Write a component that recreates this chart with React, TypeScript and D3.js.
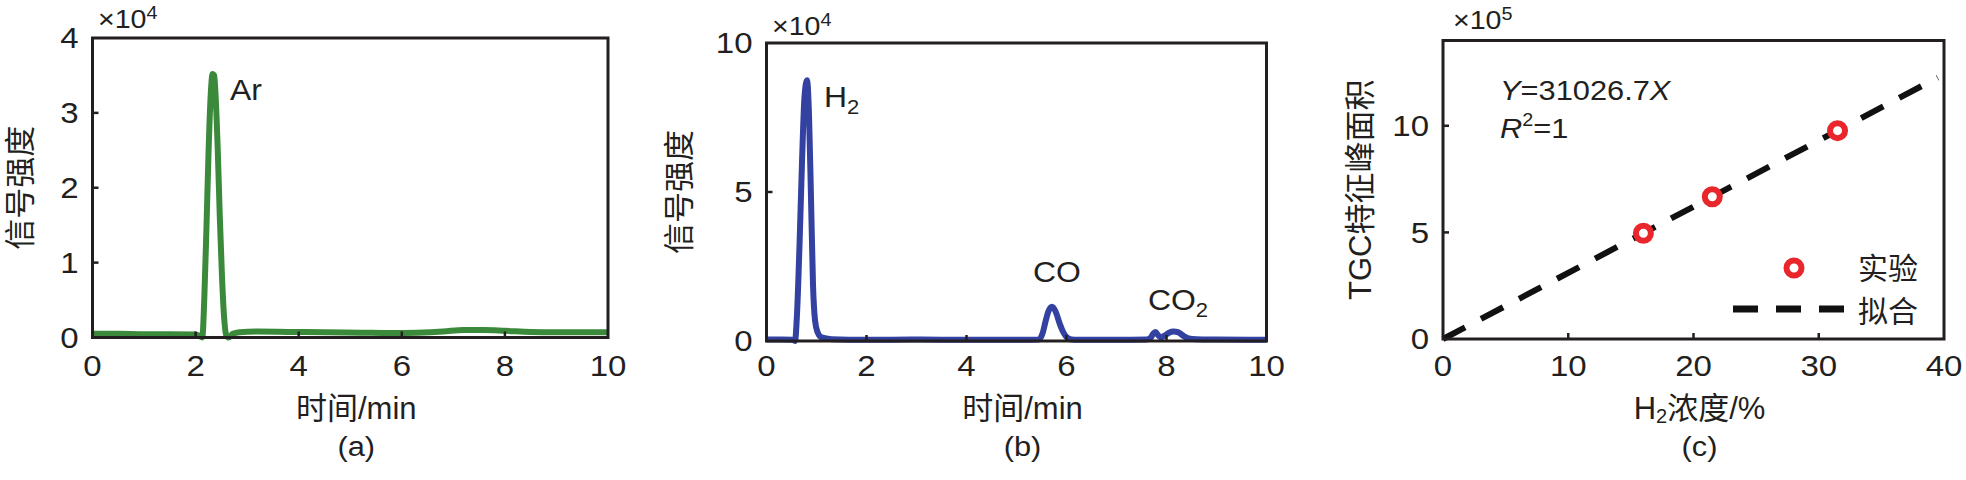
import React from 'react';
import * as d3 from 'd3';

// ---------- data ----------
const aTime = [0, 0.5, 1.0, 1.5, 2.0, 2.08, 2.13, 2.17, 2.21, 2.25, 2.29, 2.33, 2.36, 2.39, 2.43, 2.47, 2.51, 2.55, 2.59, 2.64, 2.72, 2.85, 3.2, 3.8, 4.5, 5.2, 5.8, 6.3, 6.8, 7.2, 7.6, 8.0, 8.5, 9.0, 9.5, 10];
const aSignal = [0.05, 0.05, 0.045, 0.045, 0.04, 0.02, 0.0, 0.55, 1.45, 2.45, 3.2, 3.52, 3.5, 3.2, 2.5, 1.6, 0.85, 0.3, 0.04, 0.0, 0.05, 0.07, 0.08, 0.075, 0.07, 0.065, 0.06, 0.065, 0.08, 0.1, 0.1, 0.09, 0.075, 0.07, 0.07, 0.07];

const bTime = [0, 0.3, 0.52, 0.57, 0.61, 0.66, 0.71, 0.76, 0.81, 0.85, 0.89, 0.93, 0.97, 1.02, 1.1, 1.3, 2.0, 3.0, 4.0, 5.0, 5.45, 5.52, 5.58, 5.64, 5.71, 5.78, 5.86, 5.94, 6.02, 6.1, 6.25, 7.0, 7.6, 7.68, 7.73, 7.78, 7.83, 7.89, 7.96, 8.05, 8.14, 8.24, 8.34, 8.44, 8.6, 9.0, 10];
const bSignal = [0.05, 0.05, 0.04, 0.0, 0.9, 3.2, 6.0, 8.2, 8.75, 7.6, 4.8, 1.9, 0.7, 0.3, 0.12, 0.06, 0.04, 0.05, 0.04, 0.04, 0.05, 0.25, 0.65, 1.0, 1.15, 1.0, 0.6, 0.28, 0.1, 0.05, 0.04, 0.04, 0.05, 0.1, 0.24, 0.3, 0.2, 0.12, 0.18, 0.28, 0.32, 0.29, 0.17, 0.09, 0.06, 0.05, 0.04];

const cConc = [16.0, 21.5, 31.5];
const cArea = [4.96, 6.67, 9.77];
const fitX = [0, 39.5];
const fitY = [0, 12.26];

const timeTicks = [0, 2, 4, 6, 8, 10];
const aYTicks = [0, 1, 2, 3, 4];
const bYTicks = [0, 5, 10];
const cXTicks = [0, 10, 20, 30, 40];
const cYTicks = [0, 5, 10];

// ---------- style ----------
const INK = '#231f20';
const FONT = '"Liberation Sans", Arial, "Noto Sans CJK SC", sans-serif';
const TICK_FS = 30;
const LABEL_FS = 31;
const SX = 1.1; // horizontal stretch of glyphs seen in the reference

type PanelProps = {
  x0: number; x1: number; yTop: number; yBot: number;
  xDomain: [number, number]; yDomain: [number, number];
  xTicks: number[]; yTicks: number[];
  innerX: number[]; innerY: number[];
  yLabel: React.ReactNode; xLabel: React.ReactNode; tag: string;
  exp: string; expX: number; expY: number;
  yLabelX: number;
  children: (x: d3.ScaleLinear<number, number>, y: d3.ScaleLinear<number, number>) => React.ReactNode;
};

// text stretched horizontally about its anchor point
function T(props: { x: number; y: number; anchor?: string; fs: number; children: React.ReactNode; central?: boolean }) {
  return (
    <g transform={`translate(${props.x},${props.y}) scale(${SX},1)`}>
      <text x={0} y={0} textAnchor={props.anchor || 'start'} dominantBaseline={props.central === false ? 'auto' : 'central'} fontSize={props.fs} fill={INK}>{props.children}</text>
    </g>
  );
}

function Panel(p: PanelProps) {
  const x = d3.scaleLinear().domain(p.xDomain).range([p.x0, p.x1]);
  const y = d3.scaleLinear().domain(p.yDomain).range([p.yBot, p.yTop]);
  const cx = (p.x0 + p.x1) / 2 + 6;
  const cy = (p.yTop + p.yBot) / 2;
  return (
    <g>
      {p.children(x, y)}
      <rect x={p.x0} y={p.yTop} width={p.x1 - p.x0} height={p.yBot - p.yTop} fill="none" stroke={INK} strokeWidth={3} />
      {p.innerX.map((t) => (
        <line key={'ix' + t} x1={x(t)} x2={x(t)} y1={p.yBot} y2={p.yBot - 6} stroke={INK} strokeWidth={2.5} />
      ))}
      {p.innerY.map((t) => (
        <line key={'iy' + t} x1={p.x0} x2={p.x0 + 6} y1={y(t)} y2={y(t)} stroke={INK} strokeWidth={2.5} />
      ))}
      {p.xTicks.map((t) => (
        <T key={'xt' + t} x={x(t)} y={366} anchor="middle" fs={TICK_FS}>{t}</T>
      ))}
      {p.yTicks.map((t) => (
        <T key={'yt' + t} x={p.x0 - 14} y={y(t)} anchor="end" fs={TICK_FS}>{t}</T>
      ))}
      <T x={p.expX} y={p.expY} fs={26} central={false}>×10<tspan fontSize={18} dy={-9}>{p.exp}</tspan></T>
      <text transform={`translate(${p.yLabelX},${cy}) rotate(-90)`} textAnchor="middle" dominantBaseline="central" fontSize={LABEL_FS} fill={INK}>{p.yLabel}</text>
      <text x={cx} y={408} textAnchor="middle" dominantBaseline="central" fontSize={LABEL_FS} fill={INK}>{p.xLabel}</text>
      <T x={cx} y={446} anchor="middle" fs={28}>{p.tag}</T>
    </g>
  );
}

function curvePath(xs: number[], ys: number[], x: any, y: any) {
  const pts = xs.map((t, i) => [t, ys[i]] as [number, number]);
  return d3.line<[number, number]>().x((d) => x(d[0])).y((d) => y(d[1])).curve(d3.curveMonotoneX)(pts) || '';
}

export default function App() {
  return (
    <svg width={1966} height={480} style={{ position: 'absolute', left: 0, top: 0, background: '#fff' }} fontFamily={FONT}>
      <rect width={1966} height={480} fill="#fff" />
      {/* (a) */}
      <Panel x0={92.5} x1={608} yTop={38} yBot={337.5} xDomain={[0, 10]} yDomain={[0, 4]}
        xTicks={timeTicks} yTicks={aYTicks} innerX={[2, 4, 6, 8]} innerY={[1, 2, 3]}
        yLabel="信号强度" xLabel="时间/min" tag="(a)" exp="4" expX={98} expY={28} yLabelX={20}>
        {(x, y) => (
          <g>
            <path d={curvePath(aTime, aSignal, x, y)} fill="none" stroke="#3b8a3b" strokeWidth={6} strokeLinejoin="round" />
            <T x={230} y={90} fs={29}>Ar</T>
          </g>
        )}
      </Panel>
      {/* (b) */}
      <Panel x0={766.5} x1={1266.5} yTop={43} yBot={341} xDomain={[0, 10]} yDomain={[0, 10]}
        xTicks={timeTicks} yTicks={bYTicks} innerX={[2, 4, 6, 8]} innerY={[5]}
        yLabel="信号强度" xLabel="时间/min" tag="(b)" exp="4" expX={772} expY={35} yLabelX={679}>
        {(x, y) => (
          <g>
            <path d={curvePath(bTime, bSignal, x, y)} fill="none" stroke="#3341a0" strokeWidth={6} strokeLinejoin="round" />
            <T x={824} y={97} fs={29}>H<tspan fontSize={20} dy={9}>2</tspan></T>
            <T x={1033} y={272} fs={29}>CO</T>
            <T x={1148} y={300} fs={29}>CO<tspan fontSize={20} dy={9}>2</tspan></T>
          </g>
        )}
      </Panel>
      {/* (c) */}
      <Panel x0={1443} x1={1944} yTop={40.5} yBot={339} xDomain={[0, 40]} yDomain={[0, 14]}
        xTicks={cXTicks} yTicks={cYTicks} innerX={[10, 20, 30]} innerY={[5, 10]}
        yLabel="TGC特征峰面积" xLabel={<tspan>H<tspan fontSize={20} dy={8}>2</tspan><tspan dy={-8}>浓度/%</tspan></tspan>} tag="(c)" exp="5" expX={1453} expY={29} yLabelX={1360}>
        {(x, y) => (
          <g>
            <line x1={x(fitX[0])} y1={y(fitY[0])} x2={x(fitX[1])} y2={y(fitY[1])} stroke="#111" strokeWidth={6} strokeDasharray="25 18" />
            {cConc.map((c, i) => (
              <circle key={i} cx={x(c)} cy={y(cArea[i])} r={7.5} fill="#fff" stroke="#e8262b" strokeWidth={6} />
            ))}
            <T x={1500} y={100} fs={28} central={false}><tspan fontStyle="italic">Y</tspan>=31026.7<tspan fontStyle="italic">X</tspan></T>
            <T x={1500} y={138} fs={28} central={false}><tspan fontStyle="italic">R</tspan><tspan fontSize={18} dy={-12}>2</tspan><tspan dy={12}>=1</tspan></T>
            <circle cx={1794} cy={268} r={7.5} fill="#fff" stroke="#e8262b" strokeWidth={6} />
            <text x={1858} y={268} dominantBaseline="central" fontSize={30} fill={INK}>实验</text>
            <line x1={1733} y1={309} x2={1844} y2={309} stroke="#111" strokeWidth={7} strokeDasharray="25 18" />
            <text x={1858} y={311} dominantBaseline="central" fontSize={30} fill={INK}>拟合</text>
          </g>
        )}
      </Panel>
    </svg>
  );
}
